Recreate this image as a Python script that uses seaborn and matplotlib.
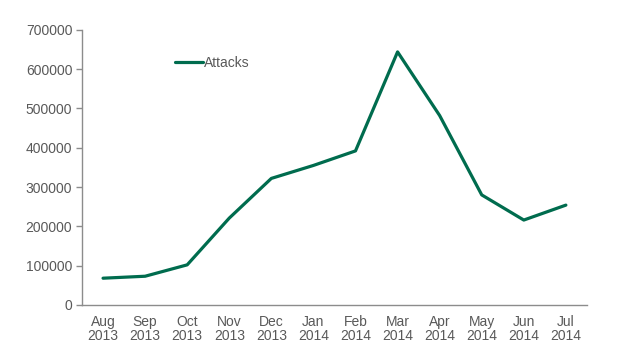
import matplotlib
matplotlib.use("Agg")
import matplotlib.pyplot as plt
import numpy as np
import pandas as pd
import seaborn as sns

months = ["Aug\n2013", "Sep\n2013", "Oct\n2013", "Nov\n2013", "Dec\n2013", "Jan\n2014",
          "Feb\n2014", "Mar\n2014", "Apr\n2014", "May\n2014", "Jun\n2014", "Jul\n2014"]
attacks = [68000, 73000, 102000, 221000, 322000, 355000,
           392000, 644000, 482000, 280000, 216000, 254000]
y_ticks = [0, 100000, 200000, 300000, 400000, 500000, 600000, 700000]

sns.set_style("white")
plt.rcParams["font.family"] = ["Liberation Sans", "DejaVu Sans"]

df = pd.DataFrame({"pos": np.arange(len(months)), "Attacks": attacks})

fig = plt.figure(figsize=(6.18, 3.6), dpi=100)
ax = fig.add_axes([0.1327, 0.153, 0.817, 0.764])
sns.lineplot(data=df, x="pos", y="Attacks", ax=ax, color="#006C4E",
             linewidth=2.3, label="Attacks")

text_c = "#595959"
axis_c = "#8C8C8C"
fs = 10
ax.set_xlim(-0.5, len(months) - 0.5)
ax.set_ylim(0, 700000)
ax.set_xticks(np.arange(len(months)))
ax.set_xticklabels(months, fontsize=fs, color=text_c, linespacing=1.05)
ax.set_xticks(np.arange(len(months) + 1) - 0.5, minor=True)
ax.set_yticks(y_ticks)
ax.set_yticklabels([str(v) for v in y_ticks], fontsize=fs, color=text_c)
ax.tick_params(axis="x", which="major", length=0, pad=7)
ax.tick_params(axis="x", which="minor", length=4, color=axis_c, width=1, direction="out")
ax.tick_params(axis="y", length=4, color=axis_c, width=1, direction="out", left=True, pad=3)
ax.set_xlabel("")
ax.set_ylabel("")
for side in ["top", "right"]:
    ax.spines[side].set_visible(False)
for side in ["left", "bottom"]:
    ax.spines[side].set_color(axis_c)
    ax.spines[side].set_linewidth(1)

leg = ax.legend(loc="upper left", bbox_to_anchor=(0.16, 0.95), frameon=False,
                fontsize=fs, handlelength=2.0, handletextpad=0.1)
for t in leg.get_texts():
    t.set_color(text_c)

fig.savefig("out.png", dpi=100)
